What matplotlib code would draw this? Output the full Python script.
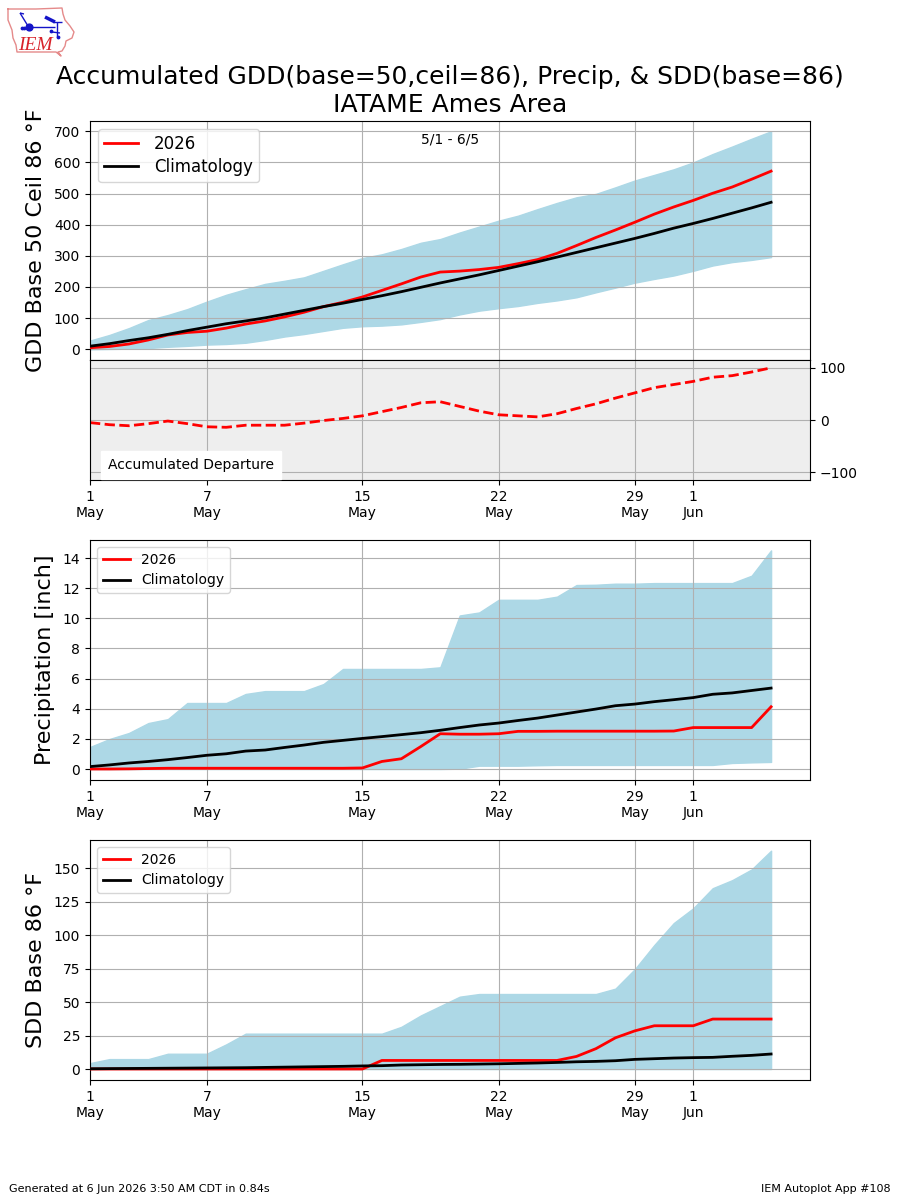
#!/usr/bin/python
"""
plot.py

Accumulated GDD, precipitation and SDD for the IATAME Ames area,
this year against climatology and the range of past years.
"""
import datetime

import matplotlib
matplotlib.use("Agg")
import matplotlib.dates as mdates
import matplotlib.pyplot as plt

start = datetime.date(2026, 5, 1)
days = [start + datetime.timedelta(days=i) for i in range(36)]
tick_days = [(5, 1), (5, 7), (5, 15), (5, 22), (5, 29), (6, 1)]

gdd_max = [28, 46, 68, 94, 110, 129, 153, 175, 193, 210, 220, 231, 252, 273, 293, 305, 322, 342,
           354, 375, 394, 413, 429, 450, 470, 488, 499, 520, 542, 560, 578, 600, 627, 651, 676, 700]
gdd_min = [0, 1, 2, 4, 8, 11, 15, 17, 21, 30, 41, 49, 59, 69, 74, 76, 80, 88,
           97, 112, 124, 132, 139, 149, 157, 167, 183, 198, 214, 226, 237, 252, 269, 280, 287, 296]
gdd_obs = [5, 9, 17, 30, 46, 54, 58, 68, 81, 91, 104, 119, 137, 151, 168, 189, 210, 232,
           248, 251, 256, 263, 275, 288, 308, 333, 359, 383, 408, 434, 457, 478, 501, 521, 546, 572]
gdd_clim = [10, 18, 28, 37, 48, 60, 71, 82, 91, 101, 113, 125, 137, 148, 160, 172, 185, 199,
            213, 226, 239, 253, 267, 281, 296, 311, 326, 341, 356, 372, 389, 404, 420, 437, 454, 472]
gdd_departure = [-5, -9, -11, -7, -2, -7, -13, -14, -10, -10, -10, -6, -1, 3, 8, 16, 24, 33,
                 35, 26, 17, 10, 8, 6, 12, 22, 31, 42, 52, 62, 68, 74, 82, 85, 92, 100]

precip_max = [1.46, 1.99, 2.39, 3.05, 3.31, 4.38, 4.38, 4.38, 4.98, 5.17, 5.17, 5.17, 5.64, 6.64, 6.64, 6.64, 6.64, 6.64,
              6.75, 10.19, 10.39, 11.23, 11.23, 11.23, 11.44, 12.21, 12.23, 12.3, 12.3, 12.34, 12.34, 12.34,
              12.34, 12.34, 12.83, 14.51]
precip_min = [0, 0, 0, 0, 0, 0, 0, 0, 0, 0, 0, 0, 0, 0, 0, 0, 0, 0,
              0, 0.02, 0.22, 0.22, 0.22, 0.25, 0.27, 0.27, 0.27, 0.27, 0.27, 0.27, 0.27, 0.27, 0.27, 0.4, 0.44, 0.47]
precip_obs = [0.0, 0.0, 0.01, 0.03, 0.05, 0.05, 0.05, 0.05, 0.05, 0.05, 0.05, 0.05, 0.05, 0.05, 0.07, 0.5, 0.68, 1.49,
              2.34, 2.31, 2.31, 2.34, 2.5, 2.5, 2.51, 2.51, 2.51, 2.51, 2.51, 2.51, 2.52, 2.75, 2.75, 2.75, 2.75, 4.13]
precip_clim = [0.16, 0.27, 0.4, 0.5, 0.62, 0.76, 0.91, 1.01, 1.19, 1.26, 1.43, 1.59, 1.77, 1.9, 2.03, 2.15, 2.28, 2.41,
               2.57, 2.75, 2.92, 3.05, 3.22, 3.38, 3.58, 3.78, 3.98, 4.2, 4.31, 4.47, 4.6, 4.74, 4.96, 5.05, 5.21, 5.37]

sdd_max = [4.4, 7.4, 7.4, 7.4, 11.4, 11.4, 11.4, 18.4, 26.4, 26.4, 26.4, 26.4, 26.4, 26.4, 26.4, 26.4, 31.5, 40,
           47, 54, 56, 56, 56, 56, 56, 56, 56, 60, 74.6, 92.6, 109, 120, 135, 141, 149, 163]
sdd_min = [0] * 36
sdd_obs = [0, 0, 0, 0, 0, 0, 0, 0, 0, 0, 0, 0, 0, 0, 0, 6.4, 6.4, 6.4,
           6.4, 6.4, 6.4, 6.4, 6.4, 6.4, 6.4, 9.4, 15.2, 23.3, 28.5, 32.3, 32.3, 32.3, 37.3, 37.3, 37.3, 37.3]
sdd_clim = [0.2, 0.3, 0.4, 0.5, 0.6, 0.7, 0.8, 0.9, 1.0, 1.2, 1.4, 1.6, 1.8, 2.0, 2.3, 2.5, 3.0, 3.2,
            3.4, 3.5, 3.7, 3.9, 4.2, 4.5, 4.9, 5.4, 5.7, 6.2, 7.2, 7.7, 8.2, 8.5, 8.7, 9.5, 10.2, 11.2]

# logo shapes, in pixels from the top left of the figure
iowa_x = [8, 36, 62, 63, 65, 70, 74, 72, 66, 65, 62, 58, 61, 56, 17, 16, 13, 12, 8, 8]
iowa_y = [9, 9, 8, 14, 20, 26, 32, 38, 41, 46, 51, 52, 56, 52, 52, 45, 38, 30, 20, 9]
barb_x = [[20, 28], [20, 24], [29, 55], [53, 62], [57, 57], [52, 60]]
barb_y = [[13, 26], [13, 14], [27, 27], [22, 22], [22, 37], [32, 33]]
flag_x = [45, 55]
flag_y = [17, 22]

fig = plt.figure(figsize=(9, 12), dpi=100)


def axes_px(top, bottom):
    "axes spanning the plot width between two pixel rows"
    return fig.add_axes([0.1, 1 - bottom / 1200, 0.8, (bottom - top) / 1200])


def date_axis(ax):
    ax.set_xlim(mdates.date2num(start), mdates.date2num(datetime.date(2026, 6, 7)))
    ax.set_xticks([mdates.date2num(datetime.date(2026, m, d)) for m, d in tick_days])
    ax.set_xticklabels(["%d\n%s" % (d, "May" if m == 5 else "Jun") for m, d in tick_days])


def panel(ax, high, low, obs, clim, ylabel, ymin, ymax):
    x = mdates.date2num(days)
    ax.fill_between(x, low, high, color="lightblue")
    ax.plot(x, obs, color="r", lw=2, label="2026", zorder=3)
    ax.plot(x, clim, color="k", lw=2, label="Climatology", zorder=3)
    ax.set_ylim(ymin, ymax)
    ax.set_ylabel(ylabel, fontsize=16, labelpad=5.5)
    ax.grid(True)
    date_axis(ax)


ax1 = axes_px(121, 360)
panel(ax1, gdd_max, gdd_min, gdd_obs, gdd_clim, "GDD Base 50 Ceil 86 °F", -34.4, 733)
ax1.legend(loc=2, fontsize=12, labelspacing=0.3, borderpad=0.35, handletextpad=1.0)
ax1.set_xticklabels([])
ax1.tick_params(axis="x", length=0)
ax1.text(0.5, 0.95, "5/1 - 6/5", transform=ax1.transAxes, ha="center", va="top", fontsize=10)

ax2 = axes_px(360, 480)
ax2.plot(mdates.date2num(days), gdd_departure, color="r", lw=2, ls="--")
ax2.set_facecolor("#EEEEEE")
ax2.set_ylim(-115, 115)
ax2.set_yticks([-100, 0, 100])
ax2.yaxis.tick_right()
ax2.grid(True)
date_axis(ax2)
ax2.text(0.025, 0.07, "Accumulated Departure", transform=ax2.transAxes, fontsize=10, va="bottom",
         bbox=dict(color="white", pad=5), zorder=4)

ax3 = axes_px(540, 780)
panel(ax3, precip_max, precip_min, precip_obs, precip_clim, "Precipitation [inch]", -0.73, 15.2)
ax3.legend(loc=2, fontsize=10)
ax3.set_yticks(range(0, 15, 2))

ax4 = axes_px(840, 1080)
panel(ax4, sdd_max, sdd_min, sdd_obs, sdd_clim, "SDD Base 86 °F", -8.2, 171)
ax4.legend(loc=2, fontsize=10)
ax4.set_yticks(range(0, 151, 25))

fig.text(0.5, 1 - 91 / 1200, "Accumulated GDD(base=50,ceil=86), Precip, & SDD(base=86)\nIATAME Ames Area",
         ha="center", va="center", fontsize=18)
fig.text(0.01, 0.005, "Generated at 6 Jun 2026 3:50 AM CDT in 0.84s", fontsize=8, va="bottom")
fig.text(0.99, 0.005, "IEM Autoplot App #108", fontsize=8, ha="right", va="bottom")

# little IEM logo on a transparent overlay measured in pixels
logo = fig.add_axes([0, 0, 1, 1], facecolor="none", zorder=5)
logo.set_xlim(0, 900)
logo.set_ylim(1200, 0)
logo.axis("off")
logo.plot(iowa_x, iowa_y, color="#e58a8a", lw=1)
for bx, by in zip(barb_x, barb_y):
    logo.plot(bx, by, color="#1414c8", lw=1, solid_capstyle="butt")
logo.plot(flag_x, flag_y, color="#1414c8", lw=2.5, solid_capstyle="butt")
logo.scatter([29], [27], s=24, color="#1414c8")
logo.scatter([22, 24, 51, 58], [28, 28, 31, 37], s=3, color="#1414c8")
logo.text(18, 45, "IEM", color="#d8222a", fontsize=14, family="Liberation Serif", style="italic", va="center")

fig.savefig("out.png", dpi=100)
